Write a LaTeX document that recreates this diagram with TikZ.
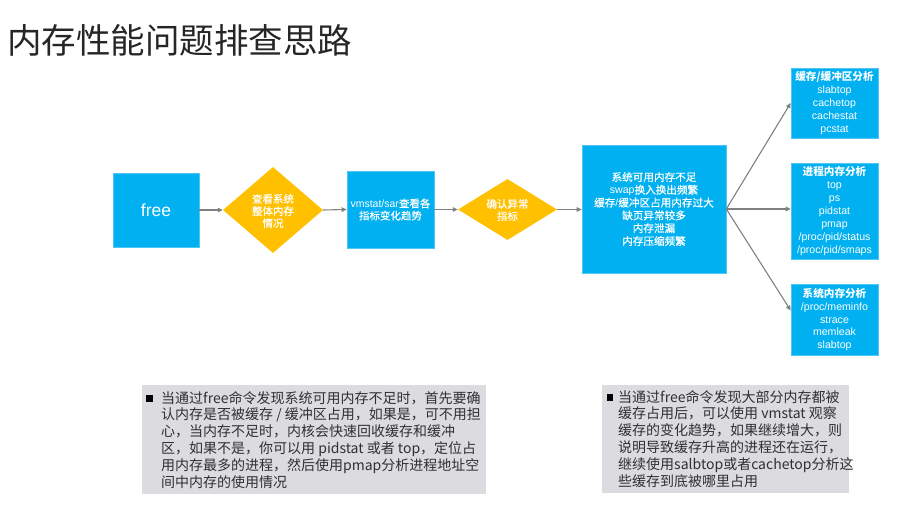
\documentclass[tikz,border=0pt]{standalone}
\usepackage{fontspec}
\setmainfont{Noto Sans CJK SC}
\newfontfamily\latf{Liberation Sans}
\newfontfamily\cjkmid[FakeBold=0.6]{Noto Sans CJK SC}
\usetikzlibrary{shapes.geometric,arrows.meta}
\definecolor{boxblue}{HTML}{00B0F0}
\definecolor{boxedge}{HTML}{4FC6F3}
\definecolor{diayellow}{HTML}{FFC000}
\definecolor{notegray}{HTML}{DCDCE0}
\definecolor{arrowgray}{HTML}{808080}
\definecolor{titlecol}{HTML}{262626}
\definecolor{notetext}{HTML}{303030}
\begin{document}
\begin{tikzpicture}[x=1bp,y=-1bp,
  bluebox/.style={rectangle, fill=boxblue, draw=boxedge, line width=0.6bp, inner sep=0pt, text=white, align=center},
  ydiamond/.style={diamond, fill=diayellow, draw=none, inner sep=0pt},
  nodetext/.style={text=white, align=center, inner sep=0pt, font=\cjkmid\fontsize{10.5bp}{12.2bp}\selectfont},
  flowarrow/.style={draw=arrowgray, line width=1.1bp, -{Triangle[length=5bp,width=4.5bp]}},
  notebox/.style={rectangle, fill=notegray, draw=none, inner sep=0pt},
  notetxt/.style={text=notetext, align=left, inner sep=0pt, anchor=north west, font=\fontsize{14bp}{16.8bp}\selectfont},
  bulletsq/.style={rectangle, fill=black, draw=none, inner sep=0pt, minimum width=6.5bp, minimum height=6.5bp}
]
\useasboundingbox (0,0) rectangle (899,520);

% title
\node[anchor=west, inner sep=0pt, text=titlecol, font=\fontsize{34.5bp}{40bp}\selectfont] (title) at (7,40) {内存性能问题排查思路};

% flow
\node[bluebox, minimum width=86bp, minimum height=74bp, font=\latf\fontsize{17.5bp}{20bp}\selectfont] (free) at (156,210) {free};
\node[ydiamond, minimum width=100bp, minimum height=86bp] (d1) at (273,210) {};
\node[nodetext] (d1t) at (273,211) {查看系统\\整体内存\\情况};
\node[bluebox, minimum width=87bp, minimum height=77bp, font=\cjkmid\fontsize{10.5bp}{12.2bp}\selectfont] (vm) at (390.5,209.5) {{\latf vmstat/sar}查看各\\指标变化趋势};
\node[ydiamond, minimum width=99bp, minimum height=61bp] (d2) at (507.5,209.5) {};
\node[nodetext] (d2t) at (507.5,210) {确认异常\\指标};
\node[bluebox, minimum width=144bp, minimum height=128bp, font=\cjkmid\fontsize{10.6bp}{12.8bp}\selectfont] (big) at (654,209) {系统可用内存不足\\{\latf swap}换入换出频繁\\缓存{\latf /}缓冲区占用内存过大\\缺页异常较多\\内存泄漏\\内存压缩频繁};

\node[bluebox, minimum width=87bp, minimum height=70bp, font=\latf\fontsize{10.6bp}{12.9bp}\selectfont] (ba) at (834.5,103) {{\rmfamily\bfseries 缓存/缓冲区分析}\\slabtop\\cachetop\\cachestat\\pcstat};
\node[bluebox, minimum width=87bp, minimum height=96bp, font=\latf\fontsize{10.6bp}{12.9bp}\selectfont] (bb) at (834.5,211) {{\rmfamily\bfseries 进程内存分析}\\top\\ps\\pidstat\\pmap\\/proc/pid/status\\/proc/pid/smaps};
\node[bluebox, minimum width=87bp, minimum height=71bp, font=\latf\fontsize{10.6bp}{12.9bp}\selectfont] (bc) at (834.5,319.5) {{\rmfamily\bfseries 系统内存分析}\\/proc/meminfo\\strace\\memleak\\slabtop};

\draw[flowarrow] (free.east) -- (d1.west);
\draw[flowarrow] (d1.east) -- (vm.west);
\draw[flowarrow] (vm.east) -- (d2.west);
\draw[flowarrow] (d2.east) -- (big.west |- d2.east);
\draw[flowarrow] (big.east) -- (ba.west);
\draw[flowarrow] (big.east) -- (big.east -| bb.west);
\draw[flowarrow] (big.east) -- ([yshift=9bp]bc.west);

% notes
\node[notebox, minimum width=344bp, minimum height=109bp] (n1) at (314,439.5) {};
\node[bulletsq] (b1) at (149.5,398.5) {};
\node[notetxt] (n1t) at (161,391) {当通过free命令发现系统可用内存不足时，首先要确\\认内存是否被缓存 / 缓冲区占用，如果是，可不用担\\心，当内存不足时，内核会快速回收缓存和缓冲\\区，如果不是，你可以用 pidstat 或者 top，定位占\\用内存最多的进程，然后使用pmap分析进程地址空\\间中内存的使用情况};

\node[notebox, minimum width=247bp, minimum height=108bp] (n2) at (725.5,439) {};
\node[bulletsq] (b2) at (610,397.5) {};
\node[notetxt] (n2t) at (618,390) {当通过free命令发现大部分内存都被\\缓存占用后，可以使用 vmstat 观察\\缓存的变化趋势，如果继续增大，则\\说明导致缓存升高的进程还在运行，\\继续使用salbtop或者cachetop分析这\\些缓存到底被哪里占用};
\end{tikzpicture}
\end{document}
